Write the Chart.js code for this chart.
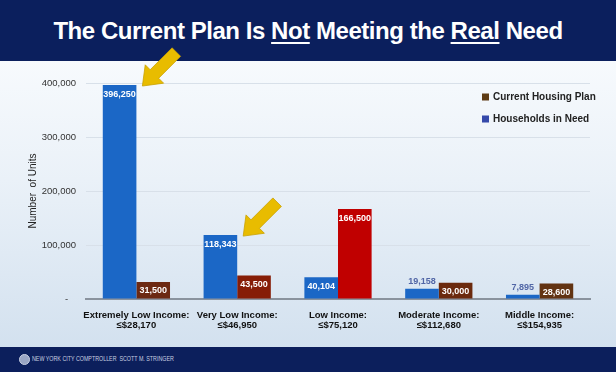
<!DOCTYPE html>
<html>
<head>
<meta charset="utf-8">
<script src="https://cdn.jsdelivr.net/npm/chart.js@4.4.1/dist/chart.umd.min.js"></script>
<style>
  body { margin: 0; }
  #slide {
    position: relative; width: 616px; height: 372px; overflow: hidden;
    background: linear-gradient(to bottom, #f7fafd 61px, #eaf1f8 180px, #d3e1ef 347px);
    font-family: "Liberation Sans", Arial, sans-serif;
  }
  #head { position: absolute; left: 0; top: 0; width: 616px; height: 61px; background: #0b1f5d; }
  #title {
    position: absolute; left: 0; top: 17px; width: 616px; text-align: center;
    color: #ffffff; font-weight: bold; font-size: 24px; letter-spacing: -0.45px;
  }
  #title u { text-decoration-thickness: 2px; text-underline-offset: 3px; }
  #foot { position: absolute; left: 0; top: 347px; width: 616px; height: 25px; background: #0c1f5c; }
  #logo {
    position: absolute; left: 19px; top: 7px; width: 11px; height: 11px; border-radius: 50%;
    background: #9aa6c4; border: 1px solid #c9d0e2; box-sizing: border-box;
  }
  #foottext {
    position: absolute; left: 32px; top: 8px; color: #c9cfe0; font-size: 6.5px; white-space: nowrap;
    transform: scaleX(0.82); transform-origin: left center;
  }
  #chart { position: absolute; left: 0; top: 0; }
</style>
</head>
<body>
<div id="slide">
  <div id="head"></div>
  <div id="title">The Current Plan Is <u>Not</u> Meeting the <u>Real</u> Need</div>
  <div id="foot"><div id="logo"></div><div id="foottext">NEW YORK CITY COMPTROLLER &nbsp;SCOTT M. STRINGER</div></div>
  <canvas id="chart" width="616" height="372"></canvas>
</div>
<script>
var categories = [
  ['Extremely Low Income:', '\u2264$28,170'],
  ['Very Low Income:', '\u2264$46,950'],
  ['Low Income:', '\u2264$75,120'],
  ['Moderate Income:', '\u2264$112,680'],
  ['Middle Income:', '\u2264$154,935']
];
var householdsInNeed = [396250, 118343, 40104, 19158, 7895];
var currentHousingPlan = [31500, 43500, 166500, 30000, 28600];
var yTicks = [0, 100000, 200000, 300000, 400000];
var arrowBars = [0, 1];

var planColors = ['#6c2912', '#861d07', '#c00000', '#6b2a0e', '#623312'];
var legendItems = [
  { text: 'Current Housing Plan', color: '#5e3b14' },
  { text: 'Households in Need', color: '#3549aa' }
];

function fmt(v) {
  return v.toLocaleString('en-US');
}

// values on the bars, small ones go above
var barLabels = {
  id: 'barLabels',
  afterDatasetsDraw: function (chart) {
    var ctx = chart.ctx;
    ctx.save();
    ctx.font = 'bold 9px "Liberation Sans", Arial, sans-serif';
    ctx.textAlign = 'center';
    ctx.textBaseline = 'middle';
    chart.data.datasets.forEach(function (ds, di) {
      chart.getDatasetMeta(di).data.forEach(function (bar, i) {
        var h = bar.base - bar.y;
        if (h < 13) {
          ctx.fillStyle = '#5166a6';
          ctx.fillText(fmt(ds.data[i]), bar.x, bar.y - 7);
        } else {
          ctx.fillStyle = '#ffffff';
          ctx.fillText(fmt(ds.data[i]), bar.x, bar.y + 9);
        }
      });
    });
    ctx.restore();
  }
};

// yellow arrows pointing at the first two need bars
var arrows = {
  id: 'arrows',
  afterDraw: function (chart) {
    var ctx = chart.ctx;
    var meta = chart.getDatasetMeta(0);
    arrowBars.forEach(function (i) {
      var bar = meta.data[i];
      var tx = bar.x + bar.width / 2 + 6, ty = bar.y + 1;
      var ux = Math.SQRT1_2, uy = -Math.SQRT1_2;
      var vx = Math.SQRT1_2, vy = Math.SQRT1_2;
      var L = 48, hl = 17, hw = 13, sw = 6;
      var pts = [
        [tx, ty],
        [tx + ux * hl + vx * hw, ty + uy * hl + vy * hw],
        [tx + ux * hl + vx * sw, ty + uy * hl + vy * sw],
        [tx + ux * L + vx * sw, ty + uy * L + vy * sw],
        [tx + ux * L - vx * sw, ty + uy * L - vy * sw],
        [tx + ux * hl - vx * sw, ty + uy * hl - vy * sw],
        [tx + ux * hl - vx * hw, ty + uy * hl - vy * hw]
      ];
      ctx.save();
      ctx.beginPath();
      pts.forEach(function (p, k) { if (k) ctx.lineTo(p[0], p[1]); else ctx.moveTo(p[0], p[1]); });
      ctx.closePath();
      ctx.fillStyle = '#e8bc00';
      ctx.fill();
      ctx.strokeStyle = '#c9a100';
      ctx.lineWidth = 0.8;
      ctx.stroke();
      ctx.restore();
    });
  }
};

// legend inside the plot, top right
var boxLegend = {
  id: 'boxLegend',
  afterDraw: function (chart) {
    var ctx = chart.ctx;
    ctx.save();
    ctx.font = 'bold 10px "Liberation Sans", Arial, sans-serif';
    ctx.textBaseline = 'middle';
    legendItems.forEach(function (it, k) {
      var y = 97 + k * 22;
      ctx.fillStyle = it.color;
      ctx.fillRect(482, y - 3.5, 7, 7);
      ctx.fillStyle = '#222222';
      ctx.fillText(it.text, 493, y);
    });
    ctx.restore();
  }
};

var config = {
  type: 'bar',
  data: {
    labels: categories,
    datasets: [
      {
        label: 'Households in Need',
        data: householdsInNeed,
        backgroundColor: '#1b67c6'
      },
      {
        label: 'Current Housing Plan',
        data: currentHousingPlan,
        backgroundColor: planColors
      }
    ]
  },
  options: {
    responsive: false,
    animation: false,
    layout: { padding: { top: 83, right: 26, bottom: 0, left: 0 } },
    datasets: { bar: { categoryPercentage: 0.667, barPercentage: 1 } },
    plugins: {
      legend: { display: false },
      tooltip: { enabled: false }
    },
    scales: {
      x: {
        grid: { display: false },
        border: { display: true, color: '#8a939e', width: 2 },
        ticks: {
          color: '#111111',
          padding: 3,
          maxRotation: 0,
          autoSkip: false,
          font: { family: '"Liberation Sans", Arial, sans-serif', size: 9.5, weight: 'bold', lineHeight: 1.1 }
        },
        afterFit: function (s) { s.height = 73; }
      },
      y: {
        min: 0,
        max: 400000,
        afterBuildTicks: function (s) { s.ticks = yTicks.map(function (v) { return { value: v }; }); },
        grid: { color: '#d8e0e9', lineWidth: 1, drawTicks: false },
        border: { display: false },
        ticks: {
          color: '#333333',
          padding: 10,
          font: { family: '"Liberation Sans", Arial, sans-serif', size: 9.5 },
          callback: function (v) { return v === 0 ? '-   ' : fmt(v); }
        },
        title: {
          display: true,
          text: 'Number  of Units',
          color: '#222222',
          padding: { top: 27, bottom: 0 },
          font: { family: '"Liberation Sans", Arial, sans-serif', size: 10 }
        },
        afterFit: function (s) { s.width = 86; }
      }
    }
  },
  plugins: [barLabels, arrows, boxLegend]
};

var myChart = new Chart(document.getElementById('chart'), config);
</script>
</body>
</html>
